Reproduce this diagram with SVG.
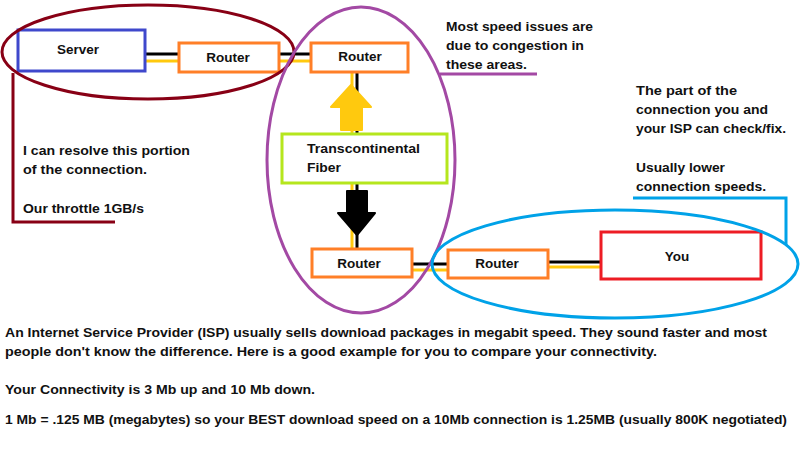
<svg xmlns="http://www.w3.org/2000/svg" width="800" height="449" viewBox="0 0 800 449">
<style>
text{font-family:"Liberation Sans",Arial,sans-serif;font-weight:bold;font-size:13.5px;fill:#111}
.lbl{text-anchor:middle}
.box{fill:#fff;stroke-width:3}
.blk{stroke:#000;stroke-width:3;fill:none}
.yel{stroke:#ffc90e;stroke-width:3;fill:none}
.ring{fill:none;stroke-width:3}
</style>
<rect width="800" height="449" fill="#fff"/>
<g id="connectors">
<line class="blk" x1="145" y1="54" x2="179" y2="54"/>
<line class="yel" x1="145" y1="61" x2="179" y2="61"/>
<line class="blk" x1="279" y1="54" x2="311" y2="54"/>
<line class="yel" x1="279" y1="61" x2="311" y2="61"/>
<line class="yel" x1="352" y1="72" x2="352" y2="134"/>
<line class="blk" x1="357" y1="72" x2="357" y2="134"/>
<line class="yel" x1="352" y1="183" x2="352" y2="249"/>
<line class="blk" x1="357" y1="183" x2="357" y2="249"/>
<line class="blk" x1="412" y1="264" x2="448" y2="264"/>
<line class="yel" x1="412" y1="270" x2="448" y2="270"/>
<line class="blk" x1="548" y1="262" x2="601" y2="262"/>
<line class="yel" x1="548" y1="267" x2="601" y2="267"/>
<polygon points="351,85 371,107 362,107 362,130 341,130 341,107 331,107" fill="#ffc90e" stroke="#ffc90e" stroke-width="2" stroke-linejoin="round"/>
<polygon points="347,191 367,191 367,213 375,213 357,235 338,213 347,213" fill="#000" stroke="#000" stroke-width="2" stroke-linejoin="round"/>
</g>
<g id="server">
<rect class="box" x="18" y="30" width="127" height="41" stroke="#3f48cc"/>
<text class="lbl" x="78" y="54">Server</text>
</g>
<g id="router1">
<rect class="box" x="179" y="43" width="100" height="29" stroke="#ff7f27"/>
<text class="lbl" x="228" y="62">Router</text>
</g>
<g id="router2">
<rect class="box" x="311" y="43" width="97" height="29" stroke="#ff7f27"/>
<text class="lbl" x="360" y="61">Router</text>
</g>
<g id="fiber">
<rect class="box" x="282" y="134" width="165" height="49" stroke="#b5e61d"/>
<text x="307" y="153" textLength="113" lengthAdjust="spacingAndGlyphs">Transcontinental</text>
<text x="307" y="172" textLength="34" lengthAdjust="spacingAndGlyphs">Fiber</text>
</g>
<g id="router3">
<rect class="box" x="312" y="249" width="100" height="28" stroke="#ff7f27"/>
<text class="lbl" x="359" y="268">Router</text>
</g>
<g id="router4">
<rect class="box" x="448" y="250" width="100" height="28" stroke="#ff7f27"/>
<text class="lbl" x="497" y="268">Router</text>
</g>
<g id="you">
<rect class="box" x="601" y="232" width="160" height="47" stroke="#ed1c24"/>
<text class="lbl" x="677" y="261">You</text>
</g>
<g id="regions">
<ellipse class="ring" cx="148" cy="52" rx="146" ry="47" stroke="#880015"/>
<polyline class="ring" points="13,73 13,222 115,222" stroke="#880015"/>
<ellipse class="ring" cx="361" cy="160" rx="94" ry="153" stroke="#a349a4"/>
<line class="ring" x1="440" y1="74" x2="537" y2="74" stroke="#a349a4"/>
<ellipse class="ring" cx="615" cy="264" rx="183" ry="54" stroke="#00a2e8"/>
<polyline class="ring" points="633,198 786,198 786,245" stroke="#00a2e8"/>
</g>
<g id="notes">
<text x="446" y="31" textLength="147" lengthAdjust="spacingAndGlyphs">Most speed issues are</text>
<text x="446" y="50" textLength="138" lengthAdjust="spacingAndGlyphs">due to congestion in</text>
<text x="446" y="69" textLength="81" lengthAdjust="spacingAndGlyphs">these areas.</text>
<text x="23" y="155" textLength="167" lengthAdjust="spacingAndGlyphs">I can resolve this portion</text>
<text x="23" y="174" textLength="124" lengthAdjust="spacingAndGlyphs">of the connection.</text>
<text x="23" y="213" textLength="121" lengthAdjust="spacingAndGlyphs">Our throttle 1GB/s</text>
<text x="636" y="95" textLength="101" lengthAdjust="spacingAndGlyphs">The part of the</text>
<text x="636" y="114" textLength="132" lengthAdjust="spacingAndGlyphs">connection you and</text>
<text x="636" y="133" textLength="150" lengthAdjust="spacingAndGlyphs">your ISP can check/fix.</text>
<text x="636" y="172" textLength="89" lengthAdjust="spacingAndGlyphs">Usually lower</text>
<text x="636" y="191" textLength="130" lengthAdjust="spacingAndGlyphs">connection speeds.</text>
<text x="5" y="337" textLength="762" lengthAdjust="spacingAndGlyphs">An Internet Service Provider (ISP) usually sells download packages in megabit speed. They sound faster and most</text>
<text x="5" y="356" textLength="652" lengthAdjust="spacingAndGlyphs">people don't know the difference. Here is a good example for you to compare your connectivity.</text>
<text x="5" y="394" textLength="310" lengthAdjust="spacingAndGlyphs">Your Connectivity is 3 Mb up and 10 Mb down.</text>
<text x="5" y="424" textLength="782" lengthAdjust="spacingAndGlyphs">1 Mb = .125 MB (megabytes) so your BEST download speed on a 10Mb connection is 1.25MB (usually 800K negotiated)</text>
</g>
</svg>
